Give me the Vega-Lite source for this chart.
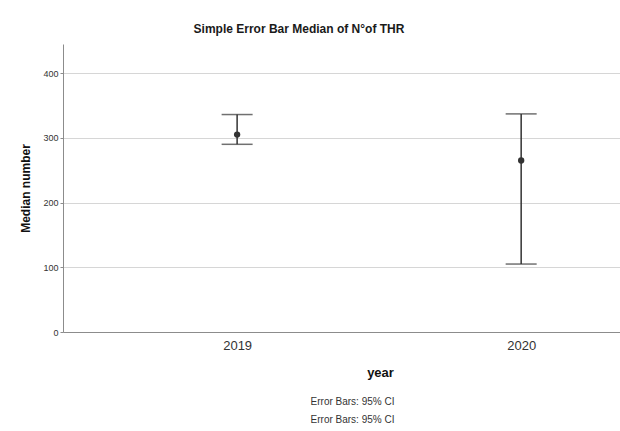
{
  "$schema": "https://vega.github.io/schema/vega-lite/v6.json",
  "padding": {"top": 23, "left": 19, "right": 0, "bottom": 0},
  "background": "white",
  "title": {"text": "Simple Error Bar Median of N°of THR", "fontSize": 12, "fontWeight": "bold", "font": "Liberation Sans", "color": "#1a1a1a", "anchor": "middle", "dx": -22, "offset": 8},
  "data": {"values": [
    {"year": 2019, "median": 305, "lo": 290, "hi": 336},
    {"year": 2020, "median": 265, "lo": 105, "hi": 337}
  ]},
  "vconcat": [
    {
      "width": 559,
      "height": 288,
      "title": {"text": "Error Bars: 95% CI", "subtitle": "Error Bars: 95% CI", "orient": "bottom", "anchor": "middle", "dx": 10, "fontSize": 10, "fontWeight": "normal", "font": "Liberation Sans", "color": "#333", "subtitleFontSize": 10, "subtitleFont": "Liberation Sans", "subtitleColor": "#333", "subtitlePadding": 8, "offset": 18},
      "encoding": {
        "x": {"field": "year", "type": "quantitative", "scale": {"domain": [2018.387, 2020.355], "nice": false, "zero": false},
          "axis": {"title": "year", "values": [2019, 2020], "format": "d", "grid": false, "ticks": false, "labelPadding": 7, "labelFontSize": 13, "labelColor": "#333", "labelFont": "Liberation Sans", "titleFont": "Liberation Sans", "titleFontSize": 13, "titleFontWeight": "bold", "titleColor": "#111", "titlePadding": 14, "titleX": 317, "titleAlign": "center", "domainColor": "#8c8c8c", "domainWidth": 1, "labelFlush": false}},
        "y": {"type": "quantitative"}
      },
      "layer": [
        {
          "mark": {"type": "rule", "color": "#333", "strokeWidth": 1.5},
          "encoding": {
            "y": {"field": "lo", "type": "quantitative", "scale": {"domain": [0, 445], "nice": false},
              "axis": {"title": "Median number", "values": [0, 100, 200, 300, 400], "grid": true, "gridColor": "#d6d6d6", "gridWidth": 1, "tickSize": 3, "tickColor": "#8c8c8c", "labelPadding": 2, "labelFontSize": 9, "labelColor": "#333", "labelFont": "Liberation Sans", "titleFont": "Liberation Sans", "titleFontSize": 12, "titleFontWeight": "bold", "titleColor": "#111", "titlePadding": 10, "domainColor": "#8c8c8c", "domainWidth": 1}},
            "y2": {"field": "hi"}
          }
        },
        {
          "mark": {"type": "tick", "orient": "horizontal", "color": "#333", "size": 31, "thickness": 1.5},
          "encoding": {"y": {"field": "lo", "type": "quantitative"}}
        },
        {
          "mark": {"type": "tick", "orient": "horizontal", "color": "#333", "size": 31, "thickness": 1.5},
          "encoding": {"y": {"field": "hi", "type": "quantitative"}}
        },
        {
          "mark": {"type": "point", "filled": true, "color": "#333", "size": 40, "opacity": 1},
          "encoding": {"y": {"field": "median", "type": "quantitative"}}
        }
      ]
    }
  ],
  "config": {"view": {"stroke": null}, "axis": {"labelFontWeight": "normal"}}
}
